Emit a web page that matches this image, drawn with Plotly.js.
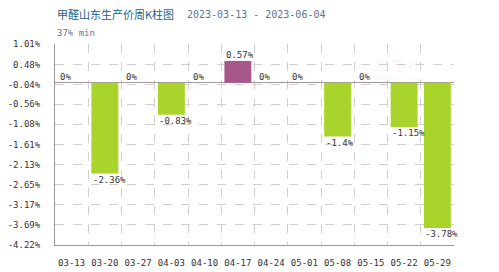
<!DOCTYPE html>
<html><head><meta charset="utf-8">
<script src="https://cdn.plot.ly/plotly-3.0.1.min.js"></script>
<style>html,body{margin:0;padding:0;background:#fff;}</style>
</head><body><div id="chart" style="width:499px;height:272px;"></div>
<script>
const categories = ["03-13","03-20","03-27","04-03","04-10","04-17","04-24","05-01","05-08","05-15","05-22","05-29"];
const values = [0, -2.36, 0, -0.83, 0, 0.57, 0, 0, -1.4, 0, -1.15, -3.78];
const valueLabels = ["0%","-2.36%","0%","-0.83%","0%","0.57%","0%","0%","-1.4%","0%","-1.15%","-3.78%"];
const yTickVals = [1.01, 0.48, -0.04, -0.56, -1.08, -1.61, -2.13, -2.65, -3.17, -3.69, -4.22];
const yTickText = ["1.01%","0.48%","-0.04%","-0.56%","-1.08%","-1.61%","-2.13%","-2.65%","-3.17%","-3.69%","-4.22%"];
const titleText = "甲醛山东生产价周K柱图";
const dateText = "2023-03-13 - 2023-06-04";
const subtitleText = "37% min";

const mono = "DejaVu Sans Mono, monospace";
const colors = values.map(v => v > 0 ? "#a8578a" : "#a9d42b");

const annotations = values.map((v, i) => ({
  x: categories[i], y: v, xref: "x", yref: "y",
  text: valueLabels[i], showarrow: false,
  xanchor: "left", yanchor: v < 0 ? "top" : "bottom",
  xshift: -14, yshift: v < 0 ? 1 : -1,
  font: {family: mono, size: 9, color: "#333"}
}));
annotations.push(
  {xref: "paper", yref: "paper", x: 0, y: 1.149, xanchor: "left", yanchor: "middle", showarrow: false,
   text: titleText, font: {family: "Noto Sans CJK SC", size: 11, color: "#1d5e8a"}},
  {xref: "paper", yref: "paper", x: 0.325, y: 1.149, xanchor: "left", yanchor: "middle", showarrow: false,
   text: dateText, font: {family: mono, size: 10, color: "#5f7590"}},
  {xref: "paper", yref: "paper", x: 0, y: 1.055, xanchor: "left", yanchor: "middle", showarrow: false,
   text: subtitleText, font: {family: mono, size: 9, color: "#5f7590"}},
  {xref: "paper", yref: "paper", x: 0.86, y: 0.9, xanchor: "center", yanchor: "middle", showarrow: false,
   text: "生 意 社", font: {family: "Noto Sans CJK SC", size: 13, color: "rgba(200,80,80,0.08)"}},
  {xref: "paper", yref: "paper", x: 0.86, y: 0.82, xanchor: "center", yanchor: "middle", showarrow: false,
   text: "100ppi.com", font: {family: mono, size: 8, color: "rgba(120,120,120,0.1)"}}
);

const trace = {
  type: "bar", x: categories, y: values,
  marker: {color: colors, line: {width: 0}},
  width: 0.81, hoverinfo: "skip"
};

const layout = {
  width: 499, height: 272,
  margin: {l: 55, r: 45, t: 44, b: 27, pad: 0},
  paper_bgcolor: "#fff", plot_bgcolor: "#fff",
  showlegend: false,
  xaxis: {
    type: "category", range: [-0.5, 11.5], tickson: "boundaries",
    showgrid: true, gridcolor: "#d0d0d0", griddash: "dash", gridwidth: 1,
    showline: true, linecolor: "#999", linewidth: 1,
    ticks: "", ticklen: 0, tickangle: 0, automargin: false,
    ticklabelstandoff: 9,
    tickfont: {family: mono, size: 9, color: "#333"},
    fixedrange: true
  },
  yaxis: {
    range: [-4.22, 1.01], tickmode: "array", tickvals: yTickVals, ticktext: yTickText,
    showgrid: true, gridcolor: "#d0d0d0", griddash: "dash", gridwidth: 1,
    showline: true, linecolor: "#999", linewidth: 1,
    zeroline: true, zerolinecolor: "#a8949e", zerolinewidth: 1,
    ticks: "", ticklabelstandoff: 12, automargin: false,
    tickfont: {family: mono, size: 9, color: "#333"},
    fixedrange: true
  },
  annotations: annotations
};

Plotly.newPlot("chart", [trace], layout, {displayModeBar: false, staticPlot: true});
</script></body></html>
